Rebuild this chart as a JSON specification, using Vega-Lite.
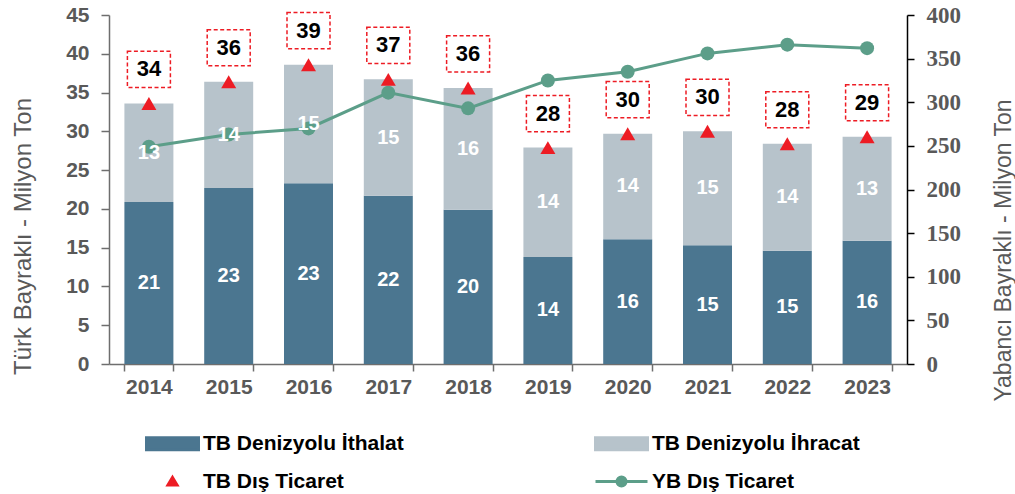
{
  "$schema": "https://vega.github.io/schema/vega-lite/v6.json",
  "width": 798,
  "height": 349,
  "autosize": {"type": "none"},
  "padding": {"left": 109, "top": 15, "right": 108, "bottom": 130},
  "background": "white",
  "config": {"view": {"stroke": null}, "font": "Liberation Sans"},
  "data": {
    "values": [
      {"year": "2014", "ithalat": 20.9, "ihracat": 12.7, "total": 33.6, "yb": 249},
      {"year": "2015", "ithalat": 22.7, "ihracat": 13.7, "total": 36.4, "yb": 263},
      {"year": "2016", "ithalat": 23.3, "ihracat": 15.3, "total": 38.6, "yb": 270},
      {"year": "2017", "ithalat": 21.7, "ihracat": 15.0, "total": 36.7, "yb": 311},
      {"year": "2018", "ithalat": 19.9, "ihracat": 15.7, "total": 35.6, "yb": 293},
      {"year": "2019", "ithalat": 13.8, "ihracat": 14.1, "total": 27.9, "yb": 325},
      {"year": "2020", "ithalat": 16.1, "ihracat": 13.6, "total": 29.7, "yb": 335},
      {"year": "2021", "ithalat": 15.3, "ihracat": 14.7, "total": 30.0, "yb": 356},
      {"year": "2022", "ithalat": 14.6, "ihracat": 13.8, "total": 28.4, "yb": 366},
      {"year": "2023", "ithalat": 15.9, "ihracat": 13.4, "total": 29.3, "yb": 362}
    ]
  },
  "encoding": {
    "x": {
      "field": "year",
      "type": "ordinal",
      "scale": {"paddingInner": 0.386, "paddingOuter": 0.193},
      "axis": {
        "title": null,
        "labelAngle": 0,
        "tickBand": "extent",
        "domainColor": "#6e6e6e",
        "tickColor": "#6e6e6e",
        "domainWidth": 1.5,
        "tickWidth": 1.5,
        "tickSize": 7,
        "labelPadding": 5,
        "labelFont": "Liberation Sans",
        "labelFontWeight": "bold",
        "labelFontSize": 21,
        "labelColor": "#595959"
      }
    }
  },
  "layer": [
    {
      "encoding": {
        "y": {
          "field": "ithalat",
          "type": "quantitative",
          "title": "Türk Bayraklı - Milyon Ton",
          "scale": {"domain": [0, 45], "nice": false},
          "axis": {
            "values": [0, 5, 10, 15, 20, 25, 30, 35, 40, 45],
            "tickCount": 10,
            "labelOverlap": false,
            "grid": false,
            "domainColor": "#6e6e6e",
            "tickColor": "#6e6e6e",
            "domainWidth": 1.5,
            "tickWidth": 1.5,
            "tickSize": 8,
            "labelPadding": 12,
            "labelFont": "Liberation Sans",
            "labelFontWeight": "bold",
            "labelFontSize": 21,
            "labelColor": "#595959",
            "titleFont": "Liberation Sans",
            "titleFontWeight": "normal",
            "titleFontSize": 24,
            "titleColor": "#595959",
            "titleAngle": -90,
            "titleAlign": "center",
            "titleBaseline": "middle",
            "titleX": -86,
            "titleY": 221
          }
        }
      },
      "layer": [
        {
          "mark": {"type": "bar"},
          "encoding": {
            "color": {
              "datum": "TB Denizyolu İthalat",
              "scale": {
                "domain": ["TB Denizyolu İthalat", "TB Denizyolu İhracat", "TB Dış Ticaret", "YB Dış Ticaret"],
                "range": ["#4b7690", "#b7c3cb", "#ed1c24", "#5c9e89"]
              },
              "legend": {
                "orient": "none",
                "direction": "horizontal",
                "legendX": 52,
                "legendY": 417,
                "columns": 2,
                "title": null,
                "padding": 0,
                "symbolSize": 400,
                "symbolStrokeWidth": 3,
                "labelFont": "Liberation Sans",
                "labelFontWeight": "bold",
                "labelFontSize": 21,
                "labelColor": "black",
                "labelLimit": 400,
                "labelOffset": 19,
                "rowPadding": 14,
                "columnPadding": 185,
                "encode": {
                  "symbols": {
                    "update": {
                      "shape": {"signal": "(datum.value == 'TB Denizyolu İthalat' || datum.value == 'TB Denizyolu İhracat') ? 'M-2.6,-0.6H2.6V0.6H-2.6Z' : (datum.value == 'TB Dış Ticaret' ? 'M0,-0.4L0.45,0.35H-0.45Z' : 'M-2.6,0H2.6M-0.45,0A0.45,0.45 0 1,0 0.45,0A0.45,0.45 0 1,0 -0.45,0')"},
                      "fill": {"scale": "color", "field": "value"},
                      "stroke": {"signal": "datum.value == 'YB Dış Ticaret' ? '#5c9e89' : 'transparent'"},
                      "opacity": {"value": 1},
                      "fillOpacity": {"value": 1},
                      "strokeOpacity": {"value": 1}
                    }
                  }
                }
              }
            }
          }
        },
        {
          "mark": {"type": "bar"},
          "encoding": {
            "y2": {"field": "total"},
            "color": {"datum": "TB Denizyolu İhracat"}
          }
        }
      ]
    },
    {
      "mark": {"type": "line", "strokeWidth": 3, "point": {"filled": true, "size": 196, "opacity": 1}},
      "encoding": {
        "y": {
          "field": "yb",
          "type": "quantitative",
          "title": "Yabancı Bayraklı - Milyon Ton",
          "scale": {"domain": [0, 400], "nice": false},
          "axis": {
            "orient": "right",
            "values": [0, 50, 100, 150, 200, 250, 300, 350, 400],
            "labelOverlap": false,
            "grid": false,
            "domainColor": "black",
            "tickColor": "black",
            "domainWidth": 1.5,
            "tickWidth": 1.5,
            "tickSize": 7,
            "labelPadding": 12,
            "labelFont": "Liberation Serif",
            "labelFontWeight": "bold",
            "labelFontSize": 23,
            "labelColor": "#595959",
            "titleFont": "Liberation Sans",
            "titleFontWeight": "normal",
            "titleFontSize": 23,
            "titleColor": "#595959",
            "titleAngle": -90,
            "titleAlign": "center",
            "titleBaseline": "middle",
            "titleX": 96,
            "titleY": 235
          }
        },
        "color": {"datum": "YB Dış Ticaret"}
      }
    },
    {
      "transform": [
        {"calculate": "datum.ithalat / 2", "as": "m1"},
        {"calculate": "(datum.ithalat + datum.total) / 2", "as": "m2"}
      ],
      "layer": [
        {
          "mark": {"type": "text", "color": "white", "font": "Liberation Sans", "fontWeight": "bold", "fontSize": 20, "baseline": "middle"},
          "encoding": {
            "y": {"field": "m1", "type": "quantitative", "scale": {"domain": [0, 45], "nice": false}, "axis": null},
            "text": {"field": "ithalat", "type": "quantitative", "format": ".0f"}
          }
        },
        {
          "mark": {"type": "text", "color": "white", "font": "Liberation Sans", "fontWeight": "bold", "fontSize": 20, "baseline": "middle"},
          "encoding": {
            "y": {"field": "m2", "type": "quantitative", "axis": null},
            "text": {"field": "ihracat", "type": "quantitative", "format": ".0f"}
          }
        },
        {
          "mark": {"type": "point", "shape": "triangle-up", "filled": true, "size": 225, "opacity": 1},
          "encoding": {
            "y": {"field": "total", "type": "quantitative", "axis": null},
            "color": {"datum": "TB Dış Ticaret"}
          }
        },
        {
          "mark": {"type": "point", "shape": "M-1,-0.84H1V0.84H-1Z", "filled": false, "size": 1849, "stroke": "#ed1c24", "strokeWidth": 1.5, "strokeDash": [4, 2.5], "opacity": 1, "yOffset": -34},
          "encoding": {
            "y": {"field": "total", "type": "quantitative", "axis": null}
          }
        },
        {
          "mark": {"type": "text", "color": "black", "font": "Liberation Sans", "fontWeight": "bold", "fontSize": 22, "baseline": "middle", "yOffset": -34},
          "encoding": {
            "y": {"field": "total", "type": "quantitative", "axis": null},
            "text": {"field": "total", "type": "quantitative", "format": ".0f"}
          }
        }
      ]
    }
  ],
  "resolve": {"scale": {"y": "independent"}}
}
